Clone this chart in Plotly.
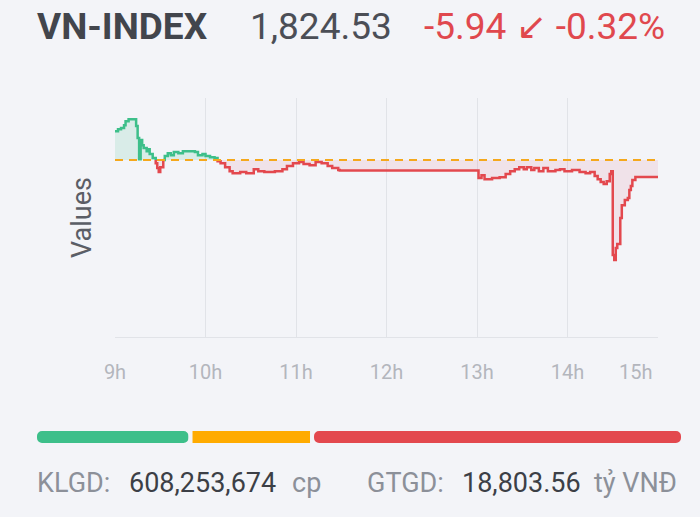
import plotly.graph_objects as go

# ---------------- data ----------------
index_name = "VN-INDEX"
index_value = 1824.53
change = -5.94
change_pct = -0.32
prev_close = 1830.47

times = ["09:00","09:02","09:04","09:06","09:07","09:09","09:12","09:14","09:15","09:16",
         "09:17","09:18","09:19","09:21","09:22","09:23","09:25","09:27","09:28","09:29",
         "09:30","09:32","09:33","09:35","09:37","09:39","09:42","09:45","09:50","09:53",
         "09:55","09:58","10:00","10:03","10:06","10:08","10:10","10:13","10:16","10:18",
         "10:23","10:27","10:32","10:35","10:39","10:46","10:51","10:54","10:58","11:02",
         "11:05","11:09","11:13","11:17","11:21","11:24","11:28","11:29",
         "13:01","13:03","13:05","13:10","13:15","13:19","13:22","13:25","13:28","13:31",
         "13:33","13:36","13:38","13:41","13:44","13:47","13:52","13:55","13:58","14:03",
         "14:08","14:12","14:15","14:18","14:20","14:22","14:24","14:26","14:28","14:29",
         "14:30","14:31","14:32","14:33","14:35","14:36","14:38","14:40","14:41","14:42",
         "14:43","14:45","15:00"]
values = [1840.6,1841.3,1841.7,1842.7,1844.1,1844.8,1844.8,1842.4,1838.2,1830.8,
          1837.5,1835.7,1834.7,1833.6,1834.3,1832.6,1831.2,1829.4,1827.7,1826.3,
          1828.0,1830.5,1831.9,1832.9,1832.2,1833.3,1832.9,1833.6,1833.6,1833.3,
          1832.2,1832.6,1831.9,1831.5,1831.2,1830.1,1829.4,1828.0,1826.6,1825.9,
          1826.3,1825.9,1827.3,1826.6,1826.3,1826.6,1827.3,1828.4,1829.4,1829.8,
          1829.1,1828.7,1829.8,1829.4,1828.4,1827.7,1827.0,1826.8,
          1824.2,1825.2,1823.8,1824.2,1824.5,1825.6,1826.6,1827.3,1828.0,1827.3,
          1828.0,1827.0,1827.7,1826.6,1827.7,1826.6,1827.0,1827.3,1826.6,1827.0,
          1826.3,1825.9,1826.3,1824.9,1823.8,1822.8,1822.1,1823.1,1825.6,1826.6,
          1797.3,1795.5,1799.7,1801.1,1810.2,1814.7,1816.5,1817.2,1820.0,1821.4,
          1823.5,1824.53,1824.53]

hour_ticks = [9, 10, 11, 12, 13, 14, 15]
hour_labels = ["9h", "10h", "11h", "12h", "13h", "14h", "15h"]

breadth_names = ["Tăng", "Đứng giá", "Giảm"]
breadth_counts = [96, 75, 229]

klgd = "608,253,674"
gtgd = "18,803.56"

# ---------------- styles ----------------
BG = "#f3f4f8"
GREEN = "#3dbf8a"
RED = "#e3484e"
ORANGE = "#f5a81c"
GRID = "#e1e3e8"
DATE = "2024-01-01"


def to_min(t):
    h, m = t.split(":")
    return (int(h) - 9) * 60 + int(m)


def to_date(mins):
    total = mins * 60.0
    h = 9 + int(total // 3600)
    rem = total - (h - 9) * 3600
    m = int(rem // 60)
    s = rem - m * 60
    return f"{DATE} {h:02d}:{m:02d}:{s:06.3f}"


n = min(len(times), len(values))
mins = [to_min(t) for t in times[:n]]
vals = values[:n]

# step corners (hv)
cx, cy = [], []
for i in range(n):
    if i > 0:
        cx.append(mins[i]); cy.append(vals[i - 1])
    cx.append(mins[i]); cy.append(vals[i])

# split polyline into green (>= ref) and red (< ref) runs
gx, gy, rx, ry = [], [], [], []
cur = None
for i in range(len(cx) - 1):
    x0, y0, x1, y1 = cx[i], cy[i], cx[i + 1], cy[i + 1]
    if (y0 - prev_close) * (y1 - prev_close) < 0:
        xm = x0 + (x1 - x0) * (prev_close - y0) / (y1 - y0)
        pieces = [(x0, y0, xm, prev_close), (xm, prev_close, x1, y1)]
    else:
        pieces = [(x0, y0, x1, y1)]
    for a, b, c, d in pieces:
        col = "g" if (b + d) / 2 >= prev_close else "r"
        X, Y = (gx, gy) if col == "g" else (rx, ry)
        if col != cur:
            if X:
                X.append(None); Y.append(None)
            X.append(to_date(a)); Y.append(b)
            cur = col
        X.append(to_date(c)); Y.append(d)

xd = [to_date(m) for m in mins]
upper = [max(v, prev_close) for v in vals]
lower = [min(v, prev_close) for v in vals]
refline = [prev_close] * n

fig = go.Figure()
fig.add_trace(go.Scatter(x=xd, y=refline, mode="lines", line=dict(width=0, shape="hv"),
                         showlegend=False, hoverinfo="skip"))
fig.add_trace(go.Scatter(x=xd, y=upper, mode="lines", line=dict(width=0, shape="hv"),
                         fill="tonexty", fillcolor="rgba(61,191,138,0.14)",
                         showlegend=False, hoverinfo="skip"))
fig.add_trace(go.Scatter(x=xd, y=refline, mode="lines", line=dict(width=0, shape="hv"),
                         showlegend=False, hoverinfo="skip"))
fig.add_trace(go.Scatter(x=xd, y=lower, mode="lines", line=dict(width=0, shape="hv"),
                         fill="tonexty", fillcolor="rgba(220,72,110,0.10)",
                         showlegend=False, hoverinfo="skip"))
fig.add_trace(go.Scatter(x=gx, y=gy, mode="lines", line=dict(color=GREEN, width=2.5),
                         showlegend=False, name="VN-INDEX"))
fig.add_trace(go.Scatter(x=rx, y=ry, mode="lines", line=dict(color=RED, width=2.5),
                         showlegend=False, name="VN-INDEX"))
fig.add_trace(go.Scatter(x=[to_date(0), to_date(360)], y=[prev_close, prev_close],
                         mode="lines", line=dict(color=ORANGE, width=2, dash="8px,6px"),
                         showlegend=False, hoverinfo="skip"))

# market breadth bar (each segment drawn from its base; first one drawn leftwards
# so that its outer end gets the rounded corner like the last one)
bcolors = [GREEN, "#ffab00", RED]
starts = [sum(breadth_counts[:i]) for i in range(len(breadth_counts))]
for i, (name, cnt, col) in enumerate(zip(breadth_names, breadth_counts, bcolors)):
    if i == 0:
        base, length = starts[i] + cnt, -cnt
    else:
        base, length = starts[i], cnt
    fig.add_trace(go.Bar(x=[length], base=[base], y=[0], orientation="h", name=name,
                         customdata=[cnt], hovertemplate=name + ": %{customdata}<extra></extra>",
                         marker=dict(color=col, line=dict(color=BG, width=4),
                                     cornerradius=7 if i in (0, len(breadth_counts) - 1) else 0),
                         width=1, xaxis="x2", yaxis="y2", showlegend=False))

W, H = 700, 517
ml, mr, mt, mb = 35, 17, 98, 66
pw, ph = W - ml - mr, H - mt - mb


def px(xp):
    return (xp - ml) / pw


def py(yp):
    return (H - mb - yp) / ph


fig.update_layout(
    width=W, height=H,
    margin=dict(l=ml, r=mr, t=mt, b=mb),
    paper_bgcolor=BG, plot_bgcolor=BG,
    barmode="overlay",
    showlegend=False,
    font=dict(family="Roboto, 'Open Sans', sans-serif", color="#555"),
    xaxis=dict(
        domain=[px(115), px(658)],
        type="date",
        range=[to_date(0), to_date(360)],
        tickvals=[to_date((h - 9) * 60) for h in hour_ticks],
        ticktext=hour_labels[:-1] + [""],
        showgrid=True, gridcolor=GRID, gridwidth=1,
        showline=True, linecolor=GRID, linewidth=1,
        zeroline=False, ticks="",
        tickfont=dict(size=20, color="#b3b6bd"),
        ticklabelstandoff=17,
        fixedrange=True,
    ),
    yaxis=dict(
        domain=[py(337), 1],
        range=[1768.6, 1852.2],
        showgrid=False, zeroline=False, showticklabels=False, ticks="",
        title=dict(text="Values", font=dict(size=27, color="#5b5e66"), standoff=14),
        fixedrange=True,
    ),
    xaxis2=dict(domain=[0, 1], range=[0, sum(breadth_counts)], visible=False,
                anchor="y2", fixedrange=True),
    yaxis2=dict(domain=[py(445), py(429)], range=[-0.5, 0.5], visible=False,
                anchor="x2", fixedrange=True),
)

# 15h label tucked at the right end
fig.add_annotation(x=to_date(360), y=py(372), xref="x", yref="paper",
                   text=hour_labels[-1], showarrow=False, xanchor="right", yanchor="middle",
                   xshift=-3, font=dict(size=20, color="#b3b6bd"))

# header
hy = py(27)
fig.add_annotation(x=px(35), y=hy, xref="paper", yref="paper", text=f"<b>{index_name}</b>",
                   showarrow=False, xanchor="left", yanchor="middle",
                   font=dict(size=37, color="#42454c"))
fig.add_annotation(x=px(248), y=hy, xref="paper", yref="paper", text=f"{index_value:,.2f}",
                   showarrow=False, xanchor="left", yanchor="middle",
                   font=dict(size=37, color="#4b4e56"))
fig.add_annotation(x=px(422), y=hy, xref="paper", yref="paper",
                   text=f"{change:.2f} ↙ {change_pct:.2f}%",
                   showarrow=False, xanchor="left", yanchor="middle",
                   font=dict(size=37, color="#e0484e"))

# footer
fy = py(483)
foot = [(35, "KLGD:", "#8c9099"), (127, klgd, "#3c3f46"), (290, "cp", "#8c9099"),
        (365, "GTGD:", "#8c9099"), (460, gtgd, "#3c3f46"), (592, "tỷ VNĐ", "#8c9099")]
for xp, txt, col in foot:
    fig.add_annotation(x=px(xp), y=fy, xref="paper", yref="paper", text=txt,
                       showarrow=False, xanchor="left", yanchor="middle",
                       font=dict(size=27, color=col))

fig.write_html("out.html")
